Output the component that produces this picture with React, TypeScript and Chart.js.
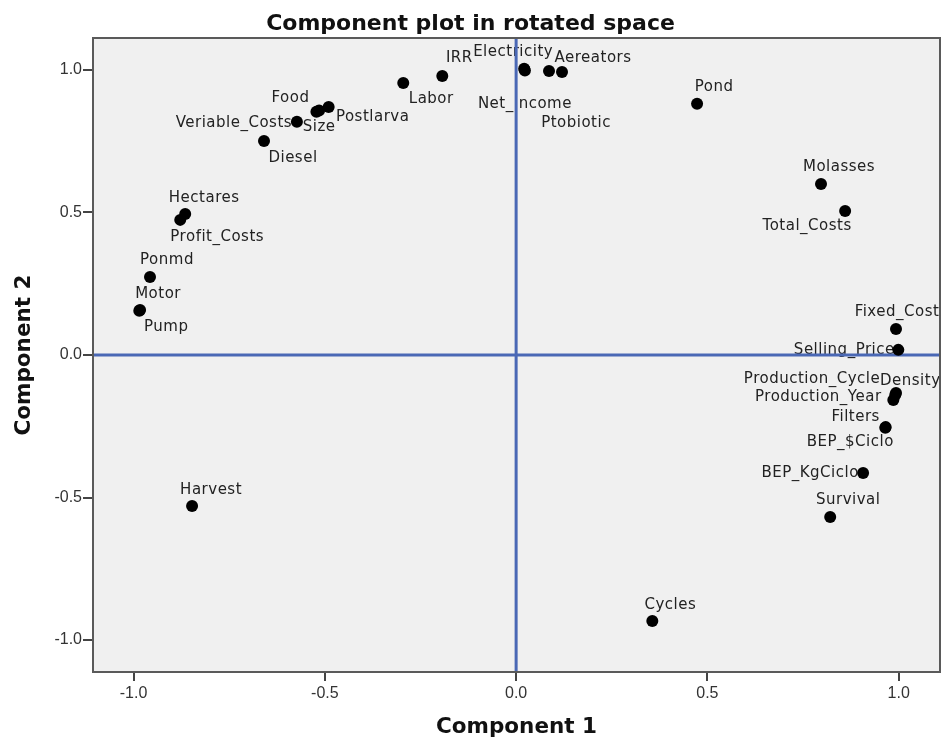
import React, { useEffect, useRef } from 'react';
import { Chart, registerables } from 'chart.js';

Chart.register(...registerables);

const chartTitle = 'Component plot in rotated space';
const xAxisTitle = 'Component 1';
const yAxisTitle = 'Component 2';

const variables = [
  'Electricity', 'Net_Income', 'Ptobiotic', 'Aereators', 'IRR', 'Labor', 'Pond',
  'Food', 'Size', 'Postlarva', 'Veriable_Costs', 'Diesel', 'Molasses', 'Total_Costs',
  'Hectares', 'Profit_Costs', 'Ponmd', 'Motor', 'Pump', 'Fixed_Cost', 'Selling_Price',
  'Production_Cycle', 'Density', 'Production_Year', 'Filters', 'BEP_$Ciclo',
  'BEP_KgCiclo', 'Survival', 'Harvest', 'Cycles',
];

const component1 = [
  0.021, 0.023, 0.086, 0.120, -0.193, -0.295, 0.473,
  -0.522, -0.515, -0.490, -0.573, -0.659, 0.797, 0.860,
  -0.865, -0.878, -0.957, -0.983, -0.985, 0.993, 0.999,
  0.993, 0.991, 0.986, 0.966, 0.965,
  0.907, 0.821, -0.847, 0.356,
];

const component2 = [
  1.004, 0.998, 0.996, 0.993, 0.979, 0.954, 0.881,
  0.853, 0.858, 0.870, 0.818, 0.751, 0.600, 0.505,
  0.495, 0.474, 0.274, 0.158, 0.155, 0.091, 0.018,
  -0.133, -0.140, -0.158, -0.253, -0.255,
  -0.414, -0.568, -0.530, -0.933,
];

const tickValues = [-1.0, -0.5, 0.0, 0.5, 1.0];

// label placement (pixel offset of label centre from its point)
const labelDx = [
  -11, 0, 27, 31, 17, 28, 17,
  -26, 0, 44, -63, 29, 18, -38,
  19, 37, 17, 18, 27, 1, -54,
  -84, 15, -75, -30, -35,
  -53, 18, 19, 18,
];
const labelDy = [
  -17, 34, 52, -14, -18, 16, -17,
  -14, 17, 10, 1, 17, -17, 15,
  -16, 17, -17, -16, 16, -17, 0,
  -14, -14, -3, -10, 14,
  0, -17, -16, -16,
];

const LABEL_FONT = '15px "DejaVu Sans"';

const plotPlugin = {
  id: 'plotDecor',
  beforeDatasetsDraw(chart: any) {
    const { ctx, chartArea: a, scales } = chart;
    const xs = scales.x;
    const ys = scales.y;
    ctx.save();
    ctx.fillStyle = '#f0f0f0';
    ctx.fillRect(a.left, a.top, a.right - a.left, a.bottom - a.top);
    ctx.beginPath();
    ctx.rect(a.left, a.top, a.right - a.left, a.bottom - a.top);
    ctx.clip();
    ctx.font = LABEL_FONT;
    try { (ctx as any).letterSpacing = '0.5px'; } catch (e) { /* ignore */ }
    ctx.fillStyle = '#222';
    ctx.textAlign = 'center';
    ctx.textBaseline = 'middle';
    variables.forEach((name, i) => {
      const px = xs.getPixelForValue(component1[i]);
      const py = ys.getPixelForValue(component2[i]);
      ctx.fillText(name, px + labelDx[i], py + labelDy[i]);
    });
    try { (ctx as any).letterSpacing = '0px'; } catch (e) { /* ignore */ }
    ctx.strokeStyle = '#4a68b5';
    ctx.lineWidth = 3;
    const x0 = xs.getPixelForValue(0);
    const y0 = ys.getPixelForValue(0);
    ctx.beginPath();
    ctx.moveTo(x0, a.top);
    ctx.lineTo(x0, a.bottom);
    ctx.moveTo(a.left, y0);
    ctx.lineTo(a.right, y0);
    ctx.stroke();
    ctx.restore();
  },
  afterDatasetsDraw(chart: any) {
    const { ctx, chartArea: a } = chart;
    ctx.save();
    ctx.strokeStyle = '#5a5a5a';
    ctx.lineWidth = 2;
    ctx.strokeRect(a.left, a.top, a.right - a.left, a.bottom - a.top);
    ctx.restore();
  },
  afterDraw(chart: any) {
    const { ctx } = chart;
    ctx.save();
    ctx.font = 'bold 22px "DejaVu Sans"';
    ctx.fillStyle = '#111';
    ctx.textAlign = 'center';
    ctx.textBaseline = 'middle';
    ctx.fillText(chartTitle, chart.width / 2, 24);
    ctx.restore();
  },
};

export default function App() {
  const canvasRef = useRef<HTMLCanvasElement | null>(null);

  useEffect(() => {
    document.body.style.margin = '0';
    const canvas = canvasRef.current;
    if (!canvas) return;
    const points = component1.map((x, i) => ({ x, y: component2[i] }));
    const chart = new Chart(canvas, {
      type: 'scatter',
      data: {
        datasets: [
          {
            label: 'Components',
            data: points,
            pointRadius: 6,
            pointHoverRadius: 6,
            pointBackgroundColor: '#000',
            pointBorderColor: '#000',
            pointBorderWidth: 0,
          },
        ],
      },
      options: {
        responsive: false,
        animation: false,
        layout: { autoPadding: false, padding: { top: 38, right: 1, left: 0, bottom: 0 } },
        plugins: {
          legend: { display: false },
          tooltip: { enabled: false },
          title: { display: false },
        },
        scales: {
          x: {
            type: 'linear',
            min: -1.106,
            max: 1.108,
            afterBuildTicks: (s: any) => {
              s.ticks = tickValues.map((v) => ({ value: v }));
            },
            afterFit: (s: any) => {
              s.height = 68;
              s.paddingLeft = 0;
              s.paddingRight = 0;
            },
            ticks: {
              callback: (v: any) => Number(v).toFixed(1),
              font: { family: 'Liberation Sans', size: 16 },
              color: '#333',
              padding: 3,
              maxRotation: 0,
            },
            grid: {
              drawOnChartArea: false,
              drawTicks: true,
              tickLength: 9,
              color: '#444',
              lineWidth: 2,
            },
            border: { display: false },
            title: {
              display: true,
              text: xAxisTitle,
              font: { family: 'DejaVu Sans', size: 21.5, weight: 'bold' },
              color: '#111',
              padding: { top: 0, bottom: 0 },
            },
          },
          y: {
            type: 'linear',
            min: -1.112,
            max: 1.112,
            afterBuildTicks: (s: any) => {
              s.ticks = tickValues.map((v) => ({ value: v }));
            },
            afterFit: (s: any) => {
              s.width = 93;
              s.paddingTop = 0;
              s.paddingBottom = 0;
            },
            ticks: {
              callback: (v: any) => Number(v).toFixed(1),
              font: { family: 'Liberation Sans', size: 16 },
              color: '#333',
              padding: 1,
            },
            grid: {
              drawOnChartArea: false,
              drawTicks: true,
              tickLength: 10,
              color: '#444',
              lineWidth: 2,
            },
            border: { display: false },
            title: {
              display: true,
              text: yAxisTitle,
              font: { family: 'DejaVu Sans', size: 21.5, weight: 'bold' },
              color: '#111',
              padding: { top: 12, bottom: 0 },
            },
          },
        },
      },
      plugins: [plotPlugin],
    });
    return () => chart.destroy();
  }, []);

  return <canvas ref={canvasRef} width={941} height={740} style={{ display: 'block' }} />;
}
